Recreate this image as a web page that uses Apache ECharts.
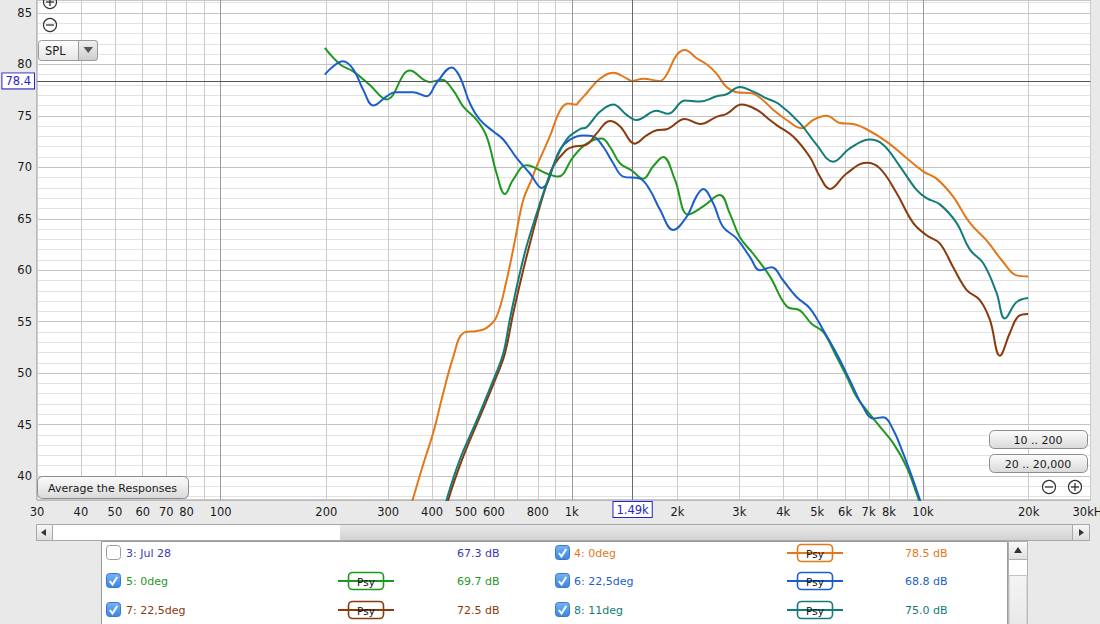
<!DOCTYPE html>
<html><head><meta charset="utf-8">
<script src="https://cdn.jsdelivr.net/npm/echarts@6/dist/echarts.min.js"></script>
<style>html,body{margin:0;padding:0;background:#e9e9e9;overflow:hidden}#c{width:1100px;height:624px}</style>
</head><body><div id="c"></div>
<script>
// ---------- axis ticks ----------
const xTickLabels = [30,40,50,60,70,80,100,200,300,400,500,600,800,1000,2000,3000,4000,5000,6000,7000,8000,10000,20000,30000];
const xGridValues = [30,40,50,60,70,80,90,100,200,300,400,500,600,700,800,900,1000,2000,3000,4000,5000,6000,7000,8000,9000,10000,20000,30000];
const xDecades = [100,1000,10000];
const yTickLabels = [40,45,50,55,60,65,70,75,80,85];
const yGridValues = [38,39,40,41,42,43,44,45,46,47,48,49,50,51,52,53,54,55,56,57,58,59,60,61,62,63,64,65,66,67,68,69,70,71,72,73,74,75,76,77,78,79,80,81,82,83,84,85,86];
const yMajor = [40,45,50,55,60,65,70,75,80,85];
const cursorFreq = 1490;
const cursorDb = 78.4;

// ---------- series data (Hz, dB SPL) ----------
const orangeFreq = [340,353,378,403,430,460,491,536,572,611,652,689,727,768,794,866,925,976,1032,1043,1102,1202,1312,1432,1480,1597,1782,1862,1988,2099,2267,2446,2584,2759,2947,3251,3508,3745,4090,4511,4868,5315,5800,6329,6909,7879,8981,10014,10932,12190,13602,15174,16920,18475,19928];
const orangeDb   = [36.0,37.8,41.2,44.2,48.0,51.6,53.9,54.1,54.4,55.5,59.0,62.9,66.8,68.8,70.1,73.0,75.5,76.2,76.1,76.3,77.2,78.6,79.2,78.65,78.4,78.6,78.4,79.0,80.9,81.4,80.6,79.9,79.1,77.8,77.3,77.2,76.5,75.6,74.6,73.8,74.6,75.0,74.3,74.2,73.7,72.5,70.9,69.6,68.9,67.15,64.6,62.9,60.8,59.5,59.4];

const greenFreq = [198,219,239,266,297,346,394,426,459,491,536,572,611,645,681,743,848,915,1009,1102,1216,1284,1371,1480,1597,1705,1821,1966,2145,2367,2640,2819,3011,3285,3665,4090,4461,4817,5199,5675,6061,6470,6909,7540,8227,8981,9590,10000];
const greenDb   = [81.6,80.0,79.3,78.0,76.6,79.4,78.3,78.5,77.5,75.9,74.6,73.0,69.4,67.4,68.8,70.2,69.4,69.1,71.0,72.3,72.8,72.0,70.4,69.7,68.9,70.1,71.0,68.8,65.4,66.2,67.3,65.5,63.2,61.6,59.4,56.5,56.1,54.8,54.0,51.6,49.7,47.7,46.4,44.8,43.2,40.9,38.3,36.5];

const blueFreq = [198,209,223,239,255,272,297,314,353,386,412,455,480,513,548,597,638,697,760,820,925,988,1078,1151,1229,1312,1401,1563,1669,1782,1944,2123,2267,2367,2527,2698,2947,3214,3433,3706,3999,4366,4764,5199,5675,6193,6756,7215,7705,8227,8783,9378,9799,10100];
const blueDb   = [79.0,79.8,80.3,79.5,77.5,76.0,76.9,77.3,77.3,76.9,78.2,79.7,78.8,76.2,74.6,73.5,72.7,70.9,69.4,68.0,71.7,72.7,73.1,73.0,72.0,70.4,69.1,68.9,67.8,65.9,63.9,65.2,67.2,67.9,66.5,64.2,63.1,61.3,60.0,60.3,59.0,57.4,56.3,54.2,51.9,49.3,46.7,45.6,45.7,44.5,42.2,39.6,37.7,36.4];

const brownFreq = [430,445,491,548,611,645,681,720,760,811,857,885,966,1009,1102,1177,1284,1371,1512,1633,1744,1862,2099,2317,2584,2759,3045,3359,3665,3830,4270,4764,5087,5431,6061,6909,7540,8411,9378,10238,11171,12190,13308,14521,15506,16558,17680,18667,19928];
const brownDb   = [35.5,37.7,41.9,45.8,49.7,51.9,55.8,59.4,62.6,66.2,68.8,70.1,71.7,72.0,72.2,73.3,74.5,74.0,72.3,73.1,73.6,73.7,74.7,74.2,74.9,75.2,76.1,75.6,74.6,74.1,73.0,71.0,69.1,67.9,69.4,70.45,69.9,67.5,64.6,63.4,62.6,60.3,58.1,57.1,55.2,51.7,53.9,55.5,55.75];

const tealFreq = [425,440,480,536,604,638,666,704,743,794,848,885,966,1054,1102,1202,1312,1432,1529,1744,1882,2099,2317,2584,2759,3011,3285,3587,3870,4461,4977,5550,6193,7061,7705,8596,9590,10238,11171,12467,13602,14839,16205,17109,18475,19928];
const tealDb   = [35.5,37.7,41.6,45.4,49.7,51.9,55.2,59.05,62.3,65.5,68.45,70.1,72.7,73.7,73.9,75.4,76.1,75.1,74.6,75.5,75.2,76.5,76.4,76.9,77.1,77.8,77.35,76.7,76.2,74.3,72.2,70.55,71.85,72.7,72.2,70.1,67.8,67.0,66.4,64.6,62.0,60.7,57.8,55.3,56.9,57.3];

// ---------- legend table ----------
const legendNames   = ['3: Jul 28','4: 0deg','5: 0deg','6: 22,5deg','7: 22,5deg','8: 11deg'];
const legendLevels  = ['67.3 dB','78.5 dB','69.7 dB','68.8 dB','72.5 dB','75.0 dB'];
const legendChecked = [false,true,true,true,true,true];

const C = {orange:'#e3781a', green:'#1f981f', blue:'#1b5ecb', brown:'#8a3a0c', teal:'#137c78', jul:'#3a3ab4'};
const legendColors = [C.jul, C.orange, C.green, C.blue, C.brown, C.teal];

const FONT = '"DejaVu Sans", sans-serif';
function fmtFreq(v){
  v = Math.round(v);
  if (v >= 30000) return '30kHz';
  if (v >= 1000) return (v/1000) + 'k';
  return String(v);
}
function pairs(f,d){ return f.map((v,i)=>[v,d[i]]); }

const curves = [
  {name:'4: 0deg', f:orangeFreq, d:orangeDb, c:C.orange},
  {name:'5: 0deg', f:greenFreq, d:greenDb, c:C.green},
  {name:'6: 22,5deg', f:blueFreq, d:blueDb, c:C.blue},
  {name:'7: 22,5deg', f:brownFreq, d:brownDb, c:C.brown},
  {name:'8: 11deg', f:tealFreq, d:tealDb, c:C.teal}
];

// ---------- chrome (graphic) ----------
const G = [];
function grad(a,b){ return new echarts.graphic.LinearGradient(0,0,0,1,[{offset:0,color:a},{offset:1,color:b}]); }
function rect(x,y,w,h,fill,stroke,r,lw){ G.push({type:'rect', z:100, shape:{x:x,y:y,width:w,height:h,r:r||0}, style:{fill:fill, stroke:stroke||null, lineWidth:lw||1}}); }
function txt(x,y,s,o){ G.push({type:'text', z:101, x:x, y:y, style:Object.assign({text:s, fill:'#1a1a1a', font:'11px '+FONT, align:'left', verticalAlign:'middle'}, o||{})}); }
function line(x1,y1,x2,y2,stroke,lw){ G.push({type:'line', z:101, shape:{x1:x1,y1:y1,x2:x2,y2:y2}, style:{stroke:stroke, lineWidth:lw||1}}); }
function poly(pts,fill){ G.push({type:'polygon', z:101, shape:{points:pts}, style:{fill:fill}}); }
function zoomIcon(cx,cy,plus){
  G.push({type:'circle', z:101, shape:{cx:cx,cy:cy,r:6.5}, style:{fill:'rgba(255,255,255,0)', stroke:'#333', lineWidth:1.2}});
  line(cx-4,cy,cx+4,cy,'#333',1.3);
  if (plus) line(cx,cy-4,cx,cy+4,'#333',1.3);
}
function button(x,y,w,h,label){
  rect(x+0.5,y+0.5,w,h,grad('#fcfcfc','#d9d9d9'),'#8c8c8c',5);
  txt(x+w/2,y+h/2+1,label,{align:'center'});
}
function checkbox(x,y,on){
  if (on){
    rect(x+0.5,y-7.5,14,14,grad('#74b4f6','#3a84e4'),'#3e76c4',3);
    G.push({type:'polyline', z:102, shape:{points:[[x+3.8,y],[x+6.5,y+3.6],[x+11.2,y-4]]}, style:{stroke:'#fff', lineWidth:2, fill:null}});
  } else {
    rect(x+0.5,y-7.5,14,14,'#fff','#9c9c9c',3);
  }
}
function psy(x,y,col){
  line(x-10,y,x+46,y,col,2);
  rect(x+0.5,y-8.5,35,17,'#fff',col,4,1.6);
  txt(x+18,y+0.5,'Psy',{align:'center', font:'10.5px '+FONT, fill:'#111'});
}

// top-left controls
zoomIcon(50,2,true);
zoomIcon(50,25,false);
rect(38.5,40.5,59,20,grad('#fdfdfd','#e6e6e6'),'#9a9a9a',3);
rect(78.5,40.5,19,20,grad('#f0f0f0','#cdcdcd'),'#9a9a9a',[0,3,3,0]);
poly([[83.5,47],[93,47],[88.25,53]],'#555');
txt(45,51,'SPL',{font:'11.5px '+FONT});
// bottom-left and bottom-right buttons
button(37,476,151,22,'Average the Responses');
button(989,430,98,18,'10 .. 200');
button(989,454,98,18,'20 .. 20,000');
zoomIcon(1049,487,false);
zoomIcon(1075,487,true);
// horizontal scrollbar
rect(36.5,524.5,1053,16,'#fff','#a8a8a8');
rect(340,525,732,15,grad('#e9e9e9','#d2d2d2'),null);
rect(36.5,524.5,16,16,grad('#f8f8f8','#dcdcdc'),'#a8a8a8');
poly([[41,532.5],[46,529],[46,536]],'#333');
rect(1072.5,524.5,17,16,grad('#f8f8f8','#dcdcdc'),'#a8a8a8');
poly([[1084,532.5],[1079,529],[1079,536]],'#333');
// legend table
rect(101.5,541.5,906,90,'#fff','#9a9a9a');
rect(1008.5,541.5,19,90,'#fff','#b0b0b0');
rect(1008.5,541.5,19,18,grad('#fafafa','#e0e0e0'),'#b0b0b0');
poly([[1018,547],[1014,553],[1022,553]],'#333');
rect(1009,575.5,18,60,grad('#f4f4f4','#e6e6e6'),'#c4c4c4');
const rowY = [553,581,610];
const colX = [{cb:106,name:126,psy:348,lvl:457},{cb:555,name:574,psy:797,lvl:905}];
legendNames.forEach((nm,i)=>{
  const r = Math.floor(i/2), c = colX[i%2], y = rowY[r], col = legendColors[i];
  checkbox(c.cb,y,legendChecked[i]);
  txt(c.name,y,nm,{fill:col});
  if (legendChecked[i]) psy(c.psy,y,col);
  txt(c.lvl,y,legendLevels[i],{fill:col});
});

// ---------- chart ----------
const Y_MIN = 37.67, Y_MAX = 86.26;
const cursorLabel = {color:'#2626c8', backgroundColor:'#fff', borderColor:'#2626c8', borderWidth:1, padding:[2,3,1,3], fontSize:11.5, fontFamily:FONT};

const series = curves.map((s,i)=>({
  type:'line', name:s.name, data:pairs(s.f,s.d), xAxisIndex:0, yAxisIndex:0,
  smooth:0.4, showSymbol:false, symbol:'none', clip:true,
  lineStyle:{color:s.c, width:2}, itemStyle:{color:s.c}, z:3+i, silent:true
}));
series.unshift({
  type:'line', data:[], xAxisIndex:0, yAxisIndex:0, z:2, silent:true,
  markLine:{silent:true, symbol:'none', animation:false, data:[
    {xAxis:cursorFreq, lineStyle:{color:'#6a6a6a', width:1, type:'solid'},
      label:Object.assign({show:true, position:'start', distance:2, formatter:(cursorFreq/1000).toFixed(2)+'k'}, cursorLabel)},
    {yAxis:cursorDb, lineStyle:{color:'#555', width:1, type:'solid'},
      label:Object.assign({show:true, position:'start', distance:3, formatter:String(cursorDb)}, cursorLabel)}
  ]}
});

const chart = echarts.init(document.getElementById('c'), null, {renderer:'svg'});
chart.setOption({
  animation:false,
  backgroundColor:'#e9e9e9',
  textStyle:{fontFamily:FONT},
  grid:{left:37, right:9.5, top:0, bottom:124, containLabel:false, outerBoundsMode:'none', show:true, backgroundColor:'#fff', borderColor:'#8e8e8e', borderWidth:1},
  xAxis:[
    {type:'log', logBase:10, min:30, max:30000, position:'bottom',
     axisLine:{show:false}, axisTick:{show:false, customValues:xGridValues},
     splitLine:{show:true, lineStyle:{color:'#cbcbcb', width:1}},
     axisLabel:{show:true, customValues:xTickLabels, formatter:fmtFreq, color:'#1a1a1a', fontSize:11.5, fontFamily:FONT, margin:6, hideOverlap:false, showMinLabel:true, showMaxLabel:true}},
    {type:'log', logBase:10, min:30, max:30000, position:'bottom',
     axisLine:{show:false}, axisTick:{show:false, customValues:xDecades}, axisLabel:{show:false},
     splitLine:{show:true, lineStyle:{color:'#9a9a9a', width:1}}}
  ],
  yAxis:[
    {type:'value', min:Y_MIN, max:Y_MAX, position:'left',
     axisLine:{show:false}, axisTick:{show:false, customValues:yGridValues},
     splitLine:{show:true, lineStyle:{color:'#e3e3e3', width:1}},
     axisLabel:{show:true, customValues:yTickLabels, color:'#1a1a1a', fontSize:11.5, fontFamily:FONT, margin:5, hideOverlap:false}},
    {type:'value', min:Y_MIN, max:Y_MAX, position:'left',
     axisLine:{show:false}, axisTick:{show:false, customValues:yMajor}, axisLabel:{show:false},
     splitLine:{show:true, lineStyle:{color:'#c4c4c4', width:1}}}
  ],
  series:series,
  graphic:{elements:G}
});
</script>
</body></html>
